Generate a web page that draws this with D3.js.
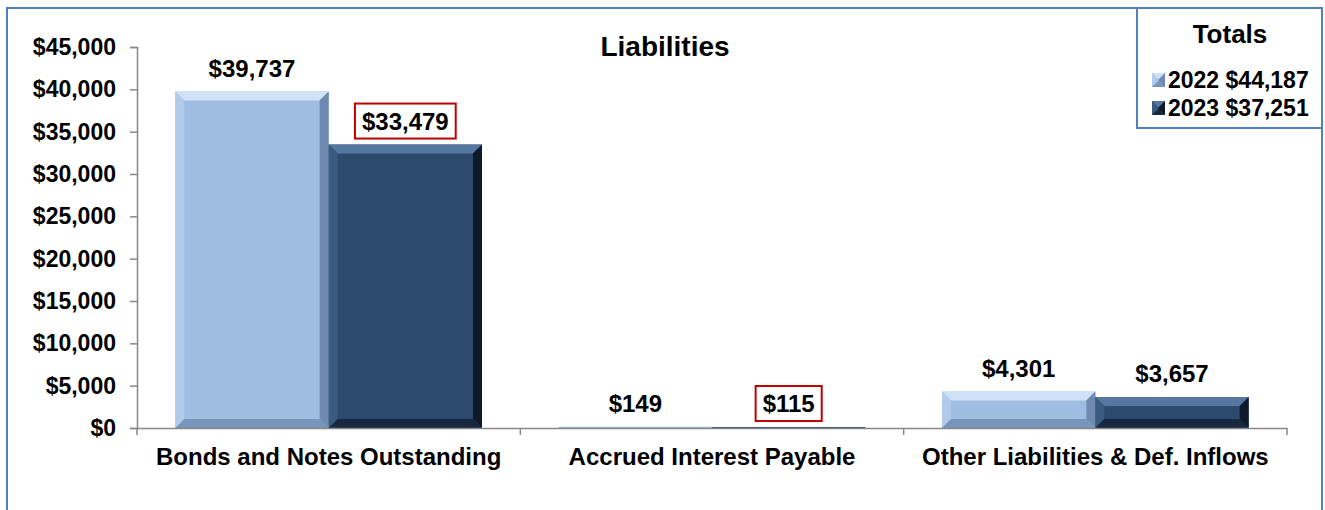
<!DOCTYPE html>
<html>
<head>
<meta charset="utf-8">
<script src="https://cdn.jsdelivr.net/npm/d3@7"></script>
<style>
  body { margin: 0; background: #fff; }
  svg text { font-family: "Liberation Sans", Arial, sans-serif; font-weight: bold; fill: #000; }
</style>
</head>
<body>
<svg id="chart" width="1325" height="510"></svg>
<script>
// data
var categories = ['Bonds and Notes Outstanding', 'Accrued Interest Payable', 'Other Liabilities & Def. Inflows'];
var years = ['2022', '2023'];
var values2022 = [39737, 149, 4301];
var values2023 = [33479, 115, 3657];
var totals = ['$44,187', '$37,251'];
var boxed2023 = [true, true, false];   // labels with red outline
var yTicks = [0, 5000, 10000, 15000, 20000, 25000, 30000, 35000, 40000, 45000];

var fmt = d3.format("$,");

var svg = d3.select('#chart');

// outer frame
svg.append('rect')
    .attr('x', 7).attr('y', 8)
    .attr('width', 1315).attr('height', 520)
    .attr('fill', 'none')
    .attr('stroke', '#4F81BD')
    .attr('stroke-width', 2);

var margin = {left: 137, right: 38, top: 47, bottom: 82};
var width = 1325 - margin.left - margin.right;
var height = 510 - margin.top - margin.bottom;

var x = d3.scaleBand()
    .domain(categories)
    .range([0, width])
    .paddingInner(0)
    .paddingOuter(0);

var xs = d3.scaleBand()
    .domain(years)
    .range([x.bandwidth() * 0.1, x.bandwidth() * 0.9]);

var y = d3.scaleLinear()
    .domain([0, 45000])
    .range([height, 0]);

var g = svg.append('g')
    .attr('transform', 'translate(' + margin.left + ',' + margin.top + ')');

// title
svg.append('text')
    .attr('x', 665).attr('y', 56)
    .attr('text-anchor', 'middle')
    .style('font-size', '28px')
    .text('Liabilities');

// colours: base, light edge, dark edge
var palette = {
    '2022': {base: '#9FBCE3', top: '#CFE2F7', left: '#B3CBEB', right: '#6F8AB0', bottom: '#7A95BB'},
    '2023': {base: '#2C4A6E', top: '#5677A0', left: '#3A5A82', right: '#0E1A2A', bottom: '#17283F'}
};

function drawBar(sel, bx, by, bw, bh, c) {
    var d = Math.min(9, bh / 2);
    sel.append('rect')
        .attr('x', bx).attr('y', by)
        .attr('width', bw).attr('height', Math.max(bh, 0.8))
        .attr('fill', c.base);
    if (bh < 3) return;
    var pts = function(arr) { return arr.map(function(p) { return p.join(','); }).join(' '); };
    sel.append('polygon').attr('fill', c.top)
        .attr('points', pts([[bx, by], [bx + bw, by], [bx + bw - d, by + d], [bx + d, by + d]]));
    sel.append('polygon').attr('fill', c.left)
        .attr('points', pts([[bx, by], [bx + d, by + d], [bx + d, by + bh - d], [bx, by + bh]]));
    sel.append('polygon').attr('fill', c.right)
        .attr('points', pts([[bx + bw, by], [bx + bw, by + bh], [bx + bw - d, by + bh - d], [bx + bw - d, by + d]]));
    sel.append('polygon').attr('fill', c.bottom)
        .attr('points', pts([[bx, by + bh], [bx + d, by + bh - d], [bx + bw - d, by + bh - d], [bx + bw, by + bh]]));
}

var series = [values2022, values2023];

categories.forEach(function(cat, i) {
    years.forEach(function(yr, j) {
        var v = series[j][i];
        var bx = x(cat) + xs(yr);
        var by = y(v);
        drawBar(g, bx, by, xs.bandwidth(), height - by, palette[yr]);

        var cx = bx + xs.bandwidth() / 2;
        var label = g.append('text')
            .attr('x', cx)
            .attr('y', by - 15)
            .attr('text-anchor', 'middle')
            .style('font-size', '24px')
            .text(fmt(v));

        if (j === 1 && boxed2023[i]) {
            var bb = label.node().getBBox();
            g.insert('rect', 'text')
                .attr('x', bb.x - 7).attr('y', bb.y - 4)
                .attr('width', bb.width + 14).attr('height', bb.height + 8)
                .attr('fill', '#fff')
                .attr('stroke', '#C00000')
                .attr('stroke-width', 2);
        }
    });
});

// axes
var yAxis = g.append('g')
    .call(d3.axisLeft(y).tickValues(yTicks).tickFormat(fmt).tickSize(7).tickSizeOuter(7));
yAxis.select('.domain').attr('stroke', '#888').attr('stroke-width', 1.5);
yAxis.selectAll('.tick line').attr('stroke', '#888').attr('stroke-width', 1.5);
yAxis.selectAll('.tick text')
    .attr('x', -21)
    .style('font-size', '23px')
    .style('font-family', '"Liberation Sans", Arial, sans-serif')
    .style('font-weight', 'bold')
    .attr('fill', '#000');

var xAxis = g.append('g')
    .attr('transform', 'translate(0,' + height + ')')
    .call(d3.axisBottom(x).tickSize(0).tickSizeOuter(0));
xAxis.select('.domain').attr('stroke', '#888').attr('stroke-width', 1.5);
xAxis.selectAll('.tick text')
    .attr('y', 29)
    .attr('dy', '0.35em')
    .style('font-size', '24px')
    .style('font-family', '"Liberation Sans", Arial, sans-serif')
    .style('font-weight', 'bold')
    .attr('fill', '#000');

// category separator ticks
var seps = categories.map(function(c) { return x(c) + x.bandwidth(); });
g.selectAll('.sep')
    .data([0].concat(seps))
    .enter().append('line')
    .attr('x1', function(d) { return d; }).attr('x2', function(d) { return d; })
    .attr('y1', height).attr('y2', height + 7)
    .attr('stroke', '#888').attr('stroke-width', 1.5);

// legend
var lg = svg.append('g');
lg.append('rect')
    .attr('x', 1137).attr('y', 8)
    .attr('width', 185).attr('height', 120)
    .attr('fill', '#fff')
    .attr('stroke', '#4F81BD')
    .attr('stroke-width', 2);
lg.append('text')
    .attr('x', 1230).attr('y', 43)
    .attr('text-anchor', 'middle')
    .style('font-size', '26px')
    .text('Totals');
years.forEach(function(yr, j) {
    var ly = 73 + j * 28;
    drawBar(lg, 1152, ly, 13, 14, palette[yr]);
    lg.append('text')
        .attr('x', 1168).attr('y', ly + 15)
        .style('font-size', '23px')
        .text(yr + ' ' + totals[j]);
});
</script>
</body>
</html>
